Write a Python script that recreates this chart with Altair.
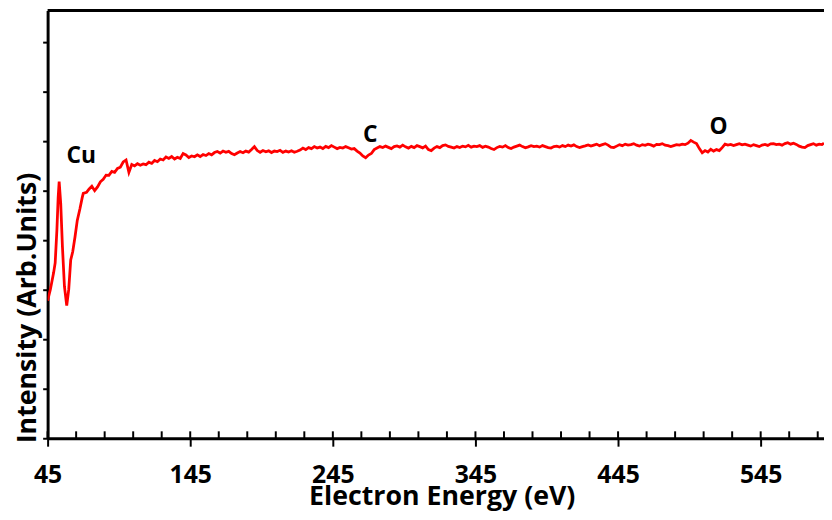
import altair as alt
import pandas as pd

# ---- data (energy in eV, intensity in arbitrary units) ----
energy_cu = [45.0, 46.9, 49.2, 50.3, 51.5, 52.4, 53.1, 54.2, 55.4, 56.8,
             58.4, 59.8, 61.2, 62.6, 64.2, 65.8, 67.7, 69.3, 70.0, 72.3]
intensity_cu = [5.56, 6.00, 6.68, 7.08, 8.40, 9.73, 10.37, 9.48, 7.73, 6.13,
                5.36, 6.00, 7.20, 7.53, 8.13, 8.80, 9.28, 9.73, 9.89, 9.93]

energy_rest = [
    74, 76, 78, 80, 82, 84, 86, 88, 90, 92,
    94, 96, 98, 100, 102, 104, 106, 108, 110, 112,
    114, 116, 118, 120, 122, 124, 126, 128, 130, 132,
    134, 136, 138, 140, 142, 144, 146, 148, 150, 152,
    154, 156, 158, 160, 162, 164, 166, 168, 170, 172,
    174, 176, 178, 180, 182, 184, 186, 188, 190, 192,
    194, 196, 198, 200, 202, 204, 206, 208, 210, 212,
    214, 216, 218, 220, 222, 224, 226, 228, 230, 232,
    234, 236, 238, 240, 242, 244, 246, 248, 250, 252,
    254, 256, 258, 260, 262, 264, 266, 268, 270, 272,
    274, 276, 278, 280, 282, 284, 286, 288, 290, 292,
    294, 296, 298, 300, 302, 304, 306, 308, 310, 312,
    314, 316, 318, 320, 322, 324, 326, 328, 330, 332,
    334, 336, 338, 340, 342, 344, 346, 348, 350, 352,
    354, 356, 358, 360, 362, 364, 366, 368, 370, 372,
    374, 376, 378, 380, 382, 384, 386, 388, 390, 392,
    394, 396, 398, 400, 402, 404, 406, 408, 410, 412,
    414, 416, 418, 420, 422, 424, 426, 428, 430, 432,
    434, 436, 438, 440, 442, 444, 446, 448, 450, 452,
    454, 456, 458, 460, 462, 464, 466, 468, 470, 472,
    474, 476, 478, 480, 482, 484, 486, 488, 490, 492,
    494, 496, 498, 500, 502, 504, 506, 508, 510, 512,
    514, 516, 518, 520, 522, 524, 526, 528, 530, 532,
    534, 536, 538, 540, 542, 544, 546, 548, 550, 552,
    554, 556, 558, 560, 562, 564, 566, 568, 570, 572,
    574, 576, 578, 580, 582, 584, 586, 588, 589.4,
]
intensity_rest = [
    10.06, 10.18, 10.00, 10.15, 10.36, 10.46, 10.63, 10.62, 10.78, 10.74,
    10.90, 10.95, 11.16, 11.24, 10.74, 11.06, 11.00, 11.09, 11.03, 11.08,
    11.05, 11.15, 11.10, 11.22, 11.17, 11.28, 11.24, 11.36, 11.30, 11.38,
    11.28, 11.35, 11.30, 11.50, 11.44, 11.34, 11.40, 11.37, 11.45, 11.38,
    11.46, 11.42, 11.50, 11.45, 11.54, 11.58, 11.52, 11.60, 11.55, 11.59,
    11.50, 11.45, 11.52, 11.58, 11.53, 11.60, 11.56, 11.66, 11.78, 11.62,
    11.55, 11.62, 11.57, 11.61, 11.54, 11.60, 11.58, 11.63, 11.55, 11.60,
    11.56, 11.61, 11.55, 11.59, 11.64, 11.72, 11.66, 11.74, 11.70, 11.78,
    11.72, 11.76, 11.70, 11.79, 11.74, 11.82, 11.76, 11.70, 11.75, 11.72,
    11.78, 11.73, 11.68, 11.70, 11.60, 11.52, 11.40, 11.33, 11.44, 11.50,
    11.66, 11.72, 11.78, 11.74, 11.80, 11.75, 11.70, 11.78, 11.81, 11.76,
    11.84, 11.77, 11.72, 11.79, 11.74, 11.82, 11.78, 11.73, 11.80, 11.66,
    11.62, 11.72, 11.78, 11.74, 11.82, 11.85, 11.79, 11.76, 11.72, 11.78,
    11.74, 11.80, 11.77, 11.83, 11.76, 11.80, 11.78, 11.82, 11.75, 11.80,
    11.76, 11.70, 11.66, 11.74, 11.79, 11.76, 11.82, 11.74, 11.70, 11.76,
    11.80, 11.84, 11.78, 11.73, 11.77, 11.82, 11.78, 11.80, 11.76, 11.82,
    11.78, 11.74, 11.72, 11.78, 11.80, 11.76, 11.82, 11.78, 11.84, 11.80,
    11.85, 11.78, 11.74, 11.78, 11.81, 11.85, 11.80, 11.84, 11.88, 11.82,
    11.86, 11.90, 11.84, 11.76, 11.74, 11.80, 11.86, 11.82, 11.88, 11.84,
    11.86, 11.90, 11.84, 11.80, 11.86, 11.83, 11.88, 11.85, 11.80, 11.87,
    11.86, 11.90, 11.84, 11.82, 11.78, 11.82, 11.86, 11.84, 11.88, 11.86,
    11.92, 12.03, 11.96, 11.90, 11.70, 11.53, 11.62, 11.56, 11.67, 11.60,
    11.66, 11.62, 11.74, 11.88, 11.84, 11.87, 11.82, 11.86, 11.90, 11.85,
    11.88, 11.84, 11.80, 11.86, 11.82, 11.78, 11.84, 11.87, 11.83, 11.89,
    11.90, 11.86, 11.88, 11.84, 11.90, 11.94, 11.88, 11.92, 11.87, 11.80,
    11.76, 11.74, 11.82, 11.86, 11.90, 11.84, 11.88, 11.86, 11.92,
]

peak_labels = ["Cu", "C", "O"]
peak_energy = [68.6, 271.2, 515.5]
peak_level = [11.13, 11.97, 12.28]

x_major = [45, 145, 245, 345, 445, 545]
x_minor = [45, 65, 85, 105, 125, 145, 165, 185, 205, 225, 245, 265, 285,
           305, 325, 345, 365, 385, 405, 425, 445, 465, 485, 505, 525, 545,
           565, 585]
y_ticks = [0, 1, 2, 3, 4, 5, 6, 7, 8, 9, 10, 11, 12, 13, 14, 15, 16, 17]

FONT = "Open Sans"
W, H = 784, 432

spectrum = pd.DataFrame({"energy": energy_cu + energy_rest,
                         "intensity": intensity_cu + intensity_rest})
labels_df = pd.DataFrame({"energy": peak_energy, "intensity": peak_level,
                          "label": peak_labels})
ticks_df = pd.DataFrame({"energy": x_minor})

xscale = alt.Scale(domain=[45, 589.4], zero=False, nice=False)
yscale = alt.Scale(domain=[0, 17.28], zero=False, nice=False)

line = alt.Chart(spectrum).mark_line(color="#ff0000", strokeWidth=2.8, clip=True).encode(
    x=alt.X("energy:Q", scale=xscale,
            axis=alt.Axis(values=x_major, title="Electron Energy (eV)",
                          labelFont=FONT, labelFontSize=25, labelFontWeight="bold",
                          labelColor="black", labelBaseline="alphabetic",
                          labelPadding=37, labelFlush=False, labelOverlap=False,
                          tickSize=8, tickWidth=2, tickColor="black",
                          domainColor="black", domainWidth=3, grid=False,
                          titleFont=FONT, titleFontSize=27, titleFontWeight="bold",
                          titleColor="black", titleX=398, titleY=67,
                          titleAlign="center", titleBaseline="alphabetic")),
    y=alt.Y("intensity:Q", scale=yscale,
            axis=alt.Axis(values=y_ticks, labels=False, tickSize=5, tickWidth=2,
                          tickColor="black", domainColor="black", domainWidth=3,
                          grid=False, title="Intensity (Arb.Units)",
                          titleFont=FONT, titleFontSize=27, titleFontWeight="bold",
                          titleColor="black", titleAngle=270, titleX=-12,
                          titleY=300, titleAlign="center",
                          titleBaseline="alphabetic")),
)

text = alt.Chart(labels_df).mark_text(font=FONT, fontSize=23, fontWeight="bold",
                                      color="black", align="center",
                                      baseline="alphabetic").encode(
    x=alt.X("energy:Q"),
    y=alt.Y("intensity:Q"),
    text="label:N",
)

inner_ticks = alt.Chart(ticks_df).mark_rule(color="black", strokeWidth=2).encode(
    x=alt.X("energy:Q"),
    y=alt.datum(0),
    y2=alt.datum(0.28),
)

top_border = alt.Chart(pd.DataFrame({"a": [0]})).mark_rule(
    color="black", strokeWidth=3).encode(
    x=alt.value(0), x2=alt.value(W), y=alt.value(0),
)

chart = alt.layer(line, text, inner_ticks, top_border).properties(
    width=W, height=H,
    autosize=alt.AutoSizeParams(type="none"),
    padding={"left": 40, "top": 0, "right": 0, "bottom": 72},
    background="white",
).configure_view(stroke=None)

chart.save("out.html", embed_options={"renderer": "svg", "actions": False})
